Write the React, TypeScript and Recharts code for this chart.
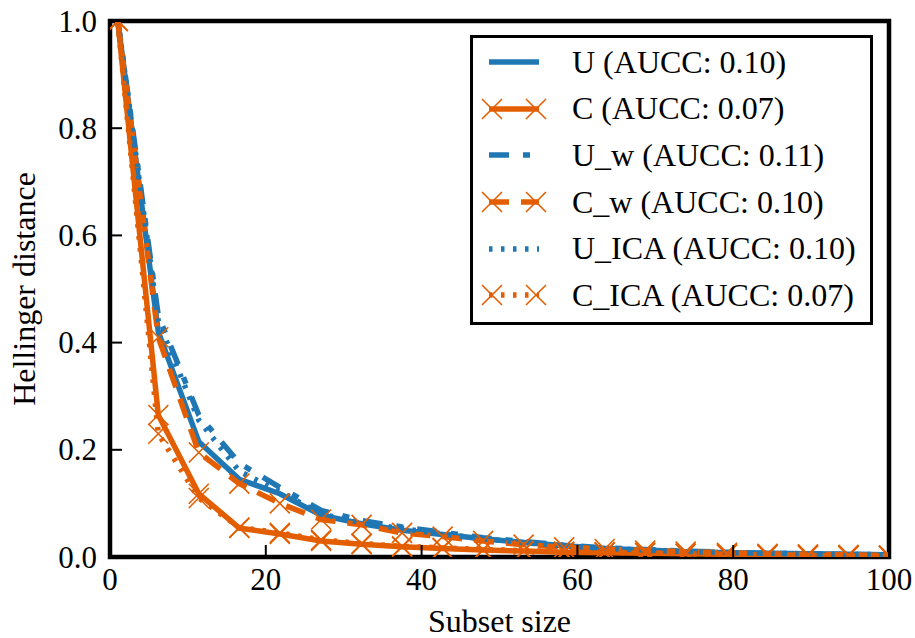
import React from "react";
import { LineChart, Line, XAxis, YAxis, Legend, usePlotArea } from "recharts";

// subset sizes where every run was evaluated
const subsetSizes = [1, 6.2, 11.4, 16.6, 21.8, 27.1, 32.3, 37.5, 42.7, 47.9, 53.1, 58.3, 63.5, 68.7, 73.9, 79.2, 84.4, 89.6, 94.8, 100];

const uValues = [1.0, 0.42, 0.215, 0.145, 0.118, 0.078, 0.062, 0.05, 0.042, 0.034, 0.027, 0.021, 0.016, 0.013, 0.01, 0.008, 0.007, 0.006, 0.005, 0.004];
const cValues = [1.0, 0.265, 0.118, 0.054, 0.043, 0.03, 0.024, 0.019, 0.016, 0.013, 0.011, 0.009, 0.008, 0.007, 0.006, 0.005, 0.004, 0.003, 0.002, 0.002];
const uwValues = [1.0, 0.45, 0.265, 0.175, 0.13, 0.087, 0.068, 0.056, 0.046, 0.036, 0.029, 0.022, 0.017, 0.014, 0.011, 0.009, 0.007, 0.006, 0.005, 0.004];
const cwValues = [1.0, 0.41, 0.195, 0.137, 0.1, 0.07, 0.06, 0.045, 0.038, 0.03, 0.023, 0.018, 0.015, 0.012, 0.01, 0.008, 0.006, 0.005, 0.004, 0.003];
const uIcaValues = [1.0, 0.44, 0.255, 0.16, 0.122, 0.08, 0.064, 0.053, 0.043, 0.034, 0.027, 0.021, 0.016, 0.013, 0.01, 0.008, 0.007, 0.006, 0.005, 0.004];
const cIcaValues = [1.0, 0.23, 0.11, 0.055, 0.045, 0.032, 0.025, 0.02, 0.017, 0.014, 0.012, 0.01, 0.009, 0.008, 0.006, 0.005, 0.004, 0.003, 0.002, 0.002];

const xTicks = [0, 20, 40, 60, 80, 100];
const yTicks = [0, 0.2, 0.4, 0.6, 0.8, 1.0];

const BLUE = "#1f77b4";
const ORANGE = "#e35e00";
const FONT = "'Liberation Serif', 'Times New Roman', serif";
const LW = 5.5;

const series = [
  { key: "U", name: "U (AUCC: 0.10)", values: uValues, color: BLUE, dash: undefined, marker: false },
  { key: "C", name: "C (AUCC: 0.07)", values: cValues, color: ORANGE, dash: undefined, marker: true },
  { key: "Uw", name: "U_w (AUCC: 0.11)", values: uwValues, color: BLUE, dash: "20 14 7 14", marker: false },
  { key: "Cw", name: "C_w (AUCC: 0.10)", values: cwValues, color: ORANGE, dash: "20 12", marker: true },
  { key: "Uica", name: "U_ICA (AUCC: 0.10)", values: uIcaValues, color: BLUE, dash: "3.5 8.5", marker: false },
  { key: "Cica", name: "C_ICA (AUCC: 0.07)", values: cIcaValues, color: ORANGE, dash: "3.5 8.5", marker: true },
];

const chartData = subsetSizes.map((x, i) => {
  const row: { [k: string]: number } = { x };
  series.forEach((s) => (row[s.key] = s.values[i]));
  return row;
});

const XMark = ({ cx, cy, color, clip }: { cx: number; cy: number; color: string; clip?: boolean }) => (
  <path
    d={`M${cx - 10},${cy - 10}L${cx + 10},${cy + 10}M${cx - 10},${cy + 10}L${cx + 10},${cy - 10}`}
    stroke={color}
    strokeWidth={1.6}
    fill="none"
    clipPath={clip ? "url(#plot-clip)" : undefined}
  />
);

const xDot = (color: string) => (p: any) => (
  <XMark key={`${p.dataKey}-${p.index}`} cx={p.cx} cy={p.cy} color={color} clip />
);

const usePlot = () => {
  const area = typeof usePlotArea === "function" ? usePlotArea() : undefined;
  return area ?? { x: 110, y: 21, width: 779, height: 536 };
};

// clip region for the markers, taken from the chart's plot area
const PlotClip = () => {
  const a = usePlot();
  return (
    <defs>
      <clipPath id="plot-clip">
        <rect x={a.x} y={a.y} width={a.width} height={a.height} />
      </clipPath>
    </defs>
  );
};

// heavy black box round the plot
const Frame = () => {
  const a = usePlot();
  return <rect x={a.x} y={a.y} width={a.width} height={a.height} fill="none" stroke="#000" strokeWidth={4.5} />;
};

const TICK_LEN = 12;

const BottomTick = ({ x, y, payload }: any) => (
  <g>
    <line x1={x} x2={x} y1={y} y2={y - TICK_LEN} stroke="#000" strokeWidth={2} />
    <text x={x} y={y + 33} textAnchor="middle" fontFamily={FONT} fontSize={31} fill="#000">
      {payload.value}
    </text>
  </g>
);

const LeftTick = ({ x, y, payload }: any) => (
  <g>
    <line x1={x} x2={x + TICK_LEN} y1={y} y2={y} stroke="#000" strokeWidth={2} />
    <text x={x - 13} y={y + 10.5} textAnchor="end" fontFamily={FONT} fontSize={31} fill="#000">
      {Number(payload.value).toFixed(1)}
    </text>
  </g>
);

const TopTick = ({ x, y }: any) => (
  <line x1={x} x2={x} y1={y} y2={y + TICK_LEN} stroke="#000" strokeWidth={2} />
);

const RightTick = ({ x, y }: any) => (
  <line x1={x} x2={x - TICK_LEN} y1={y} y2={y} stroke="#000" strokeWidth={2} />
);

const XLabel = ({ viewBox }: any) => (
  <text x={viewBox.x + viewBox.width / 2} y={viewBox.y + 75} textAnchor="middle" fontFamily={FONT} fontSize={32} fill="#000">
    Subset size
  </text>
);

const YLabel = ({ viewBox }: any) => (
  <text
    transform={`translate(${viewBox.x + 35}, ${viewBox.y + viewBox.height / 2}) rotate(-90)`}
    textAnchor="middle"
    fontFamily={FONT}
    fontSize={32}
    fill="#000"
  >
    Hellinger distance
  </text>
);

const LegendBox = () => (
  <div
    style={{
      border: "3px solid #000",
      background: "#fff",
      width: 397,
      height: 283,
      paddingTop: 1,
      fontFamily: FONT,
      fontSize: 32,
      color: "#000",
    }}
  >
    {series.map((s) => (
      <div key={s.key} style={{ display: "flex", alignItems: "center", height: 46.6 }}>
        <svg width={99} height={46} style={{ flex: "none" }}>
          <line x1={16} x2={66} y1={23} y2={23} stroke={s.color} strokeWidth={LW} strokeDasharray={s.dash} />
          {s.marker && <XMark cx={19} cy={23} color={s.color} />}
          {s.marker && <XMark cx={63} cy={23} color={s.color} />}
        </svg>
        <span style={{ whiteSpace: "nowrap" }}>{s.name}</span>
      </div>
    ))}
  </div>
);

export default function App() {
  return (
    <div style={{ position: "absolute", left: 0, top: 0, background: "#fff" }}>
      <LineChart width={915} height={638} data={chartData} margin={{ top: 21, right: 26, left: 0, bottom: 0 }}>
        <PlotClip />
        <XAxis
          dataKey="x"
          type="number"
          domain={[0, 100]}
          ticks={xTicks}
          allowDataOverflow
          height={81}
          tickSize={0}
          tickMargin={0}
          tickLine={false}
          axisLine={false}
          tick={<BottomTick />}
          label={<XLabel />}
        />
        <XAxis
          xAxisId="top"
          orientation="top"
          type="number"
          domain={[0, 100]}
          ticks={xTicks}
          height={0}
          tickSize={0}
          tickMargin={0}
          tickLine={false}
          axisLine={false}
          tick={<TopTick />}
        />
        <YAxis
          type="number"
          domain={[0, 1]}
          ticks={yTicks}
          allowDataOverflow
          width={110}
          tickSize={0}
          tickMargin={0}
          tickLine={false}
          axisLine={false}
          tick={<LeftTick />}
          label={<YLabel />}
        />
        <YAxis
          yAxisId="right"
          orientation="right"
          type="number"
          domain={[0, 1]}
          ticks={yTicks}
          width={0}
          tickSize={0}
          tickMargin={0}
          tickLine={false}
          axisLine={false}
          tick={<RightTick />}
        />
        {series.map((s) => (
          <Line
            key={s.key}
            type="linear"
            dataKey={s.key}
            name={s.name}
            stroke={s.color}
            strokeWidth={LW}
            strokeDasharray={s.dash}
            dot={s.marker ? xDot(s.color) : false}
            activeDot={false}
            isAnimationActive={false}
          />
        ))}
        <Frame />
        <Legend
          layout="horizontal"
          align="center"
          verticalAlign="middle"
          content={<LegendBox />}
          wrapperStyle={{ left: 470, top: 35, width: "auto" }}
        />
      </LineChart>
    </div>
  );
}
